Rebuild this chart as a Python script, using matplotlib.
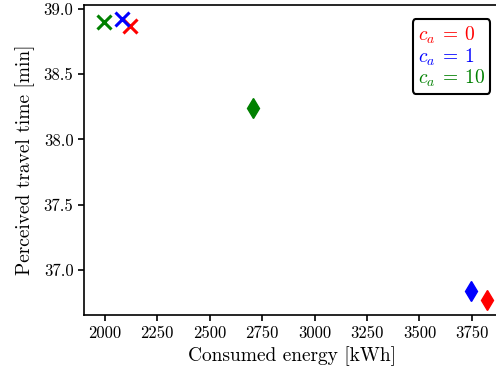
import matplotlib
matplotlib.use("Agg")
import matplotlib.pyplot as plt
from matplotlib.lines import Line2D

plt.rcParams['font.family'] = 'serif'
plt.rcParams['font.serif'] = ['cmr10']
plt.rcParams['mathtext.fontset'] = 'cm'
plt.rcParams['axes.formatter.use_mathtext'] = True

ca_values = [0, 1, 10]
colors = ['red', 'blue', 'green']
# 'x' markers
x_cross_energy = [2119, 2081, 1995]
x_cross_time = [38.87, 38.92, 38.90]
# diamond markers
d_energy = [3822, 3745, 2706]
d_time = [36.77, 36.84, 38.24]
xticks = [2000, 2250, 2500, 2750, 3000, 3250, 3500, 3750]
yticks = [37.0, 37.5, 38.0, 38.5, 39.0]

fig = plt.figure(figsize=(4.96, 3.76), dpi=100)
ax = fig.add_axes([0.169, 0.162, 0.84, 0.825])

for i in range(len(ca_values)):
    ax.plot(x_cross_energy[i], x_cross_time[i], marker='x', color=colors[i],
            markersize=10, markeredgewidth=2.2, linestyle='none')
    ax.plot(d_energy[i], d_time[i], marker='d', color=colors[i],
            markersize=10.5, linestyle='none')

ax.set_xlim(1900, 3886)
ax.set_ylim(36.655, 39.03)
ax.set_xticks(xticks)
ax.set_yticks(yticks)
ax.set_yticklabels([f"{v:.1f}" for v in yticks])
ax.set_xticklabels([str(v) for v in xticks])
ax.tick_params(labelsize=12, width=1.2, length=4)
for s in ax.spines.values():
    s.set_linewidth(1.2)

ax.set_xlabel('Consumed energy [kWh]', fontsize=14)
ax.set_ylabel('Perceived travel time [min]', fontsize=14, labelpad=6)

handles = [Line2D([], [], linestyle='none', marker=None) for _ in ca_values]
labels = [r'$c_a \:=\: %d$' % v for v in ca_values]
leg = ax.legend(handles, labels, loc='upper right', bbox_to_anchor=(0.976, 0.953),
                handlelength=0, handletextpad=0, labelcolor=colors,
                fontsize=14, frameon=True, fancybox=True, framealpha=1,
                edgecolor='black', borderpad=0.28, borderaxespad=0,
                labelspacing=0.0)
leg.get_frame().set_linewidth(1.5)

fig.savefig('out.png', dpi=100)
